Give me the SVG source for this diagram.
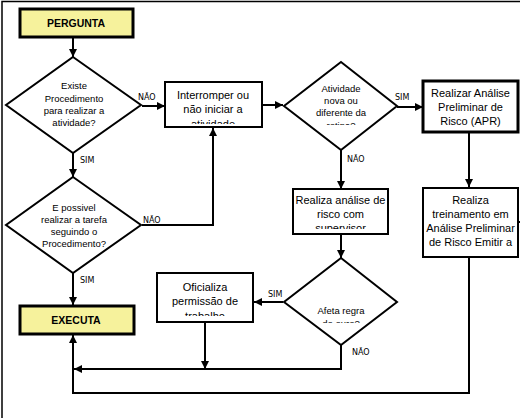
<svg xmlns="http://www.w3.org/2000/svg" width="520" height="418" viewBox="0 0 520 418">
<style>
.box{fill:#fff;stroke:#000;stroke-width:2}
.thick{stroke-width:3}
.yel{fill:#f6f29c;stroke:#000;stroke-width:3}
.dia{fill:#fff;stroke:#000;stroke-width:2}
.c{fill:none;stroke:#000;stroke-width:2}
.t{font-family:"Liberation Sans",Arial,sans-serif;font-size:11px;text-anchor:middle;fill:#000}
.td{font-family:"Liberation Sans",Arial,sans-serif;font-size:9.5px;text-anchor:middle;fill:#000}
.tb{font-family:"Liberation Sans",Arial,sans-serif;font-size:10.5px;font-weight:bold;text-anchor:middle;fill:#000}
.lab{font-family:"DejaVu Sans",sans-serif;font-size:8px;fill:#000}
</style>
<defs>
<marker id="ah" viewBox="0 0 10 10" refX="10" refY="5" markerWidth="4" markerHeight="4" orient="auto" markerUnits="strokeWidth">
<path d="M0,0 L10,5 L0,10 z" fill="#000"/>
</marker>
<clipPath id="cInt"><rect x="165" y="82" width="97" height="42"/></clipPath>
<clipPath id="cD2"><rect x="284" y="62" width="114" height="63"/></clipPath>
<clipPath id="cRA"><rect x="293" y="189" width="95" height="40"/></clipPath>
<clipPath id="cD3"><rect x="284" y="258" width="114" height="65"/></clipPath>
<clipPath id="cOf"><rect x="157" y="273" width="96" height="43"/></clipPath>
</defs>

<!-- outer frame -->
<path d="M2,418 V1.5 H520" fill="none" stroke="#000" stroke-width="1.5"/>

<g id="connectors">
<line class="c" x1="73" y1="37" x2="73" y2="57" marker-end="url(#ah)"/>
<line class="c" x1="142" y1="106" x2="165" y2="106" marker-end="url(#ah)"/>
<line class="c" x1="73" y1="153" x2="73" y2="177" marker-end="url(#ah)"/>
<polyline class="c" points="142,225 213,225 213,128" marker-end="url(#ah)"/>
<line class="c" x1="73" y1="273" x2="73" y2="305" marker-end="url(#ah)"/>
<line class="c" x1="262" y1="105" x2="283" y2="105" marker-end="url(#ah)"/>
<line class="c" x1="397" y1="107" x2="423" y2="107" marker-end="url(#ah)"/>
<line class="c" x1="341" y1="150" x2="341" y2="189" marker-end="url(#ah)"/>
<line class="c" x1="469" y1="133" x2="469" y2="187" marker-end="url(#ah)"/>
<line class="c" x1="341" y1="234" x2="341" y2="258" marker-end="url(#ah)"/>
<line class="c" x1="283" y1="302" x2="254" y2="302" marker-end="url(#ah)"/>
<line class="c" x1="205" y1="322" x2="205" y2="369" marker-end="url(#ah)"/>
<polyline class="c" points="341,345 341,369 74,369" marker-end="url(#ah)"/>
<polyline class="c" points="469,257 469,393 73,393 73,335" marker-end="url(#ah)"/>
<line class="c" x1="518" y1="222" x2="520" y2="222"/>
<text class="lab" x="138" y="100">NÃO</text>
<text class="lab" x="80" y="163">SIM</text>
<text class="lab" x="143" y="223">NÃO</text>
<text class="lab" x="80" y="283">SIM</text>
<text class="lab" x="395" y="100">SIM</text>
<text class="lab" x="347" y="162">NÃO</text>
<text class="lab" x="268" y="297">SIM</text>
<text class="lab" x="352" y="355">NÃO</text>
</g>

<g id="pergunta">
<rect class="yel" x="20" y="9" width="113" height="28"/>
<text class="tb" x="76" y="27">PERGUNTA</text>
</g>

<g id="existe">
<polygon class="dia" points="73,57 141,105 73,153 6,105"/>
<text class="td" x="74" y="89">Existe</text>
<text class="td" x="74" y="101.5">Procedimento</text>
<text class="td" x="74" y="113.5">para realizar a</text>
<text class="td" x="74" y="125.5">atividade?</text>
</g>

<g id="interromper">
<rect class="box" x="165" y="82" width="97" height="45"/>
<g clip-path="url(#cInt)">
<text class="t" x="213" y="99">Interromper ou</text>
<text class="t" x="213" y="113">não iniciar a</text>
<text class="t" x="213" y="128">atividade</text>
</g>
</g>

<g id="possivel">
<polygon class="dia" points="73,177 141,225 73,273 6,225"/>
<text class="td" x="74" y="211">E possivel</text>
<text class="td" x="74" y="223">realizar a tarefa</text>
<text class="td" x="74" y="235">seguindo o</text>
<text class="td" x="74" y="246.5">Procedimento?</text>
</g>

<g id="executa">
<rect class="yel" x="20" y="306" width="114" height="28"/>
<text class="tb" x="76" y="324">EXECUTA</text>
</g>

<g id="atividade">
<polygon class="dia" points="341,62 397,106 341,150 284,106"/>
<g clip-path="url(#cD2)">
<text class="td" x="341" y="92">Atividade</text>
<text class="td" x="341" y="104">nova ou</text>
<text class="td" x="341" y="116">diferente da</text>
<text class="td" x="341" y="128.5">rotina?</text>
</g>
</g>

<g id="apr">
<rect class="box thick" x="423" y="81" width="95" height="51"/>
<text class="t" x="470.5" y="97">Realizar Análise</text>
<text class="t" x="470.5" y="111">Preliminar  de</text>
<text class="t" x="470.5" y="124.5">Risco (APR)</text>
</g>

<g id="analise">
<rect class="box" x="293" y="189" width="95" height="45"/>
<g clip-path="url(#cRA)">
<text class="t" x="340.5" y="204">Realiza análise de</text>
<text class="t" x="340.5" y="217.5">risco com</text>
<text class="t" x="340.5" y="232">supervisor</text>
</g>
</g>

<g id="treinamento">
<rect class="box" x="423" y="188" width="95" height="69"/>
<text class="t" x="470.5" y="204">Realiza</text>
<text class="t" x="470.5" y="217.5">treinamento em</text>
<text class="t" x="470.5" y="231.5">Análise Preliminar</text>
<text class="t" x="470.5" y="246">de Risco Emitir  a</text>
</g>

<g id="afeta">
<polygon class="dia" points="341,258 397,302 341,345 284,302"/>
<g clip-path="url(#cD3)">
<text class="td" x="341" y="313.5">Afeta regra</text>
<text class="td" x="341" y="327">do ouro?</text>
</g>
</g>

<g id="oficializa">
<rect class="box" x="157" y="273" width="96" height="49"/>
<g clip-path="url(#cOf)">
<text class="t" x="205" y="291">Oficializa</text>
<text class="t" x="205" y="305">permissão de</text>
<text class="t" x="205" y="320">trabalho</text>
</g>
</g>
</svg>
